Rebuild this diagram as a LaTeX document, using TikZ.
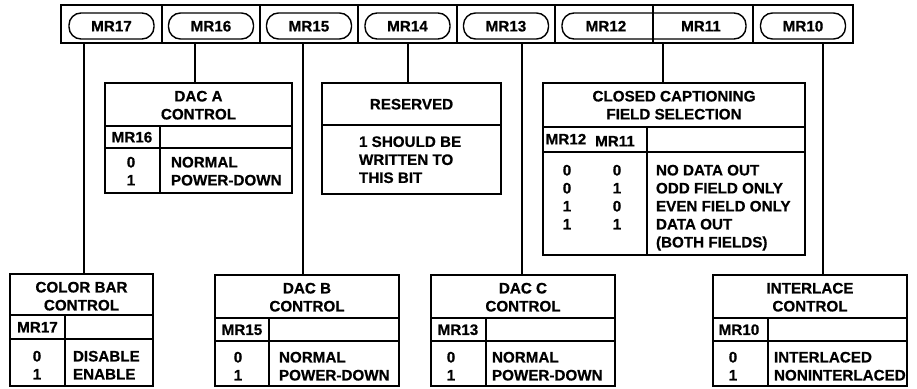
\documentclass[tikz,border=0pt]{standalone}
\usepackage{fontspec}
\setmainfont{Liberation Sans}[BoldFeatures={FakeBold=0.6}]
\begin{document}
\begin{tikzpicture}[x=1pt,y=-1pt,
  lbl/.style={inner sep=0pt, outer sep=0pt, text height=10.9pt, text depth=0pt,
    font=\fontsize{15.2}{18}\selectfont\bfseries},
  lw/.style={lbl, anchor=west},
  frame/.style={draw, line width=1.6pt, inner sep=0pt, outer sep=0pt},
  pill/.style={draw, line width=1.4pt, rounded corners=12pt, minimum height=26pt,
    minimum width=85pt, lbl},
  divline/.style={line width=1.3pt},
  conn/.style={line width=1.4pt}]
\useasboundingbox (0,0) rectangle (917,388);

% ---------- register ----------
\node[frame, minimum width=792pt, minimum height=38pt] (reg) at (457,24) {};
\node[pill] (p17) at (111.5,26) {MR17};
\node[pill] (p16) at (211,26) {MR16};
\node[pill] (p15) at (309,26) {MR15};
\node[pill] (p14) at (407.5,26) {MR14};
\node[pill] (p13) at (506,26) {MR13};
\node[pill, minimum width=184pt] (p1211) at (654,26) {};
\node[pill] (p10) at (803,26) {MR10};
\node[lbl] (t12) at (606,26) {MR12};
\node[lbl] (t11) at (701,26) {MR11};
\foreach \x in {162,260,358,457,555,753}
  \draw[line width=1.6pt] (\x,5) -- (\x,43);
\draw[line width=1.3pt] (653,5) -- (653,43);

% ---------- DAC A ----------
\node[frame, minimum width=187pt, minimum height=110pt] (daca) at (198.5,138) {};
\draw[divline] (105,126) -- (292,126);
\draw[divline] (105,148) -- (292,148);
\draw[divline] (160,126) -- (160,193);
\node[lbl] (daca1) at (198.5,96) {DAC A};
\node[lbl] (daca2) at (198.5,114) {CONTROL};
\node[lbl] (dacah) at (132,137) {MR16};
\node[lbl] (dacav0) at (131,162) {0};
\node[lbl] (dacav1) at (131,180) {1};
\node[lw] (dacat0) at (171,162) {NORMAL};
\node[lw] (dacat1) at (171,180) {POWER-DOWN};

% ---------- RESERVED ----------
\node[frame, minimum width=179pt, minimum height=111pt] (res) at (411.5,138.5) {};
\draw[divline] (322,125) -- (501,125);
\node[lbl] (res1) at (411.5,104) {RESERVED};
\node[lw] (res2) at (359,141.5) {1 SHOULD BE};
\node[lw] (res3) at (359,159.5) {WRITTEN TO};
\node[lw] (res4) at (359,177.5) {THIS BIT};

% ---------- CLOSED CAPTIONING ----------
\node[frame, minimum width=262pt, minimum height=172pt] (cc) at (674,169) {};
\draw[divline] (543,127) -- (805,127);
\draw[divline] (543,152) -- (805,152);
\draw[divline] (647,127) -- (647,255);
\node[lbl] (cc1) at (674,96) {CLOSED CAPTIONING};
\node[lbl] (cc2) at (674,114) {FIELD SELECTION};
\node[lbl] (cch1) at (566,139) {MR12};
\node[lbl] (cch2) at (615,141) {MR11};
\node[lbl] (cca0) at (567,170) {0};
\node[lbl] (ccb0) at (617,170) {0};
\node[lbl] (cca1) at (567,188) {0};
\node[lbl] (ccb1) at (617,188) {1};
\node[lbl] (cca2) at (567,206) {1};
\node[lbl] (ccb2) at (617,206) {0};
\node[lbl] (cca3) at (567,224) {1};
\node[lbl] (ccb3) at (617,224) {1};
\node[lw] (cct0) at (656,170) {NO DATA OUT};
\node[lw] (cct1) at (656,188) {ODD FIELD ONLY};
\node[lw] (cct2) at (656,206) {EVEN FIELD ONLY};
\node[lw] (cct3) at (656,224) {DATA OUT};
\node[lw] (cct4) at (656,242) {(BOTH FIELDS)};

% ---------- COLOR BAR ----------
\node[frame, minimum width=143pt, minimum height=112pt] (cb) at (81.5,330) {};
\draw[divline] (10,315) -- (153,315);
\draw[divline] (10,339) -- (153,339);
\draw[divline] (65,315) -- (65,386);
\node[lbl] (cb1) at (81.5,287) {COLOR BAR};
\node[lbl] (cb2) at (81.5,305) {CONTROL};
\node[lbl] (cbh) at (37.5,327) {MR17};
\node[lbl] (cbv0) at (37,356) {0};
\node[lbl] (cbv1) at (37,374) {1};
\node[lw] (cbt0) at (73,356) {DISABLE};
\node[lw] (cbt1) at (73,374) {ENABLE};

% ---------- DAC B ----------
\node[frame, minimum width=184pt, minimum height=111pt] (dacb) at (307,330.5) {};
\draw[divline] (215,318) -- (399,318);
\draw[divline] (215,341) -- (399,341);
\draw[divline] (269,318) -- (269,386);
\node[lbl] (dacb1) at (307,288) {DAC B};
\node[lbl] (dacb2) at (307,306) {CONTROL};
\node[lbl] (dacbh) at (242,329.5) {MR15};
\node[lbl] (dacbv0) at (238,357) {0};
\node[lbl] (dacbv1) at (238,375) {1};
\node[lw] (dacbt0) at (279,357) {NORMAL};
\node[lw] (dacbt1) at (279,375) {POWER-DOWN};

% ---------- DAC C ----------
\node[frame, minimum width=184pt, minimum height=111pt] (dacc) at (523,330.5) {};
\draw[divline] (431,318) -- (615,318);
\draw[divline] (431,341) -- (615,341);
\draw[divline] (486,318) -- (486,386);
\node[lbl] (dacc1) at (523,288) {DAC C};
\node[lbl] (dacc2) at (523,306) {CONTROL};
\node[lbl] (dacch) at (458,329.5) {MR13};
\node[lbl] (daccv0) at (451,357) {0};
\node[lbl] (daccv1) at (451,375) {1};
\node[lw] (dacct0) at (492,357) {NORMAL};
\node[lw] (dacct1) at (492,375) {POWER-DOWN};

% ---------- INTERLACE ----------
\node[frame, minimum width=194pt, minimum height=111pt] (il) at (810,330.5) {};
\draw[divline] (713,318) -- (907,318);
\draw[divline] (713,341) -- (907,341);
\draw[divline] (768,318) -- (768,386);
\node[lbl] (il1) at (810,288) {INTERLACE};
\node[lbl] (il2) at (810,306) {CONTROL};
\node[lbl] (ilh) at (739,329.5) {MR10};
\node[lbl] (ilv0) at (733,357) {0};
\node[lbl] (ilv1) at (733,375) {1};
\node[lw] (ilt0) at (774,357) {INTERLACED};
\node[lw] (ilt1) at (774,375) {NONINTERLACED};

% ---------- connectors ----------
\coordinate (k17) at (84,43);
\coordinate (k16) at (195,43);
\coordinate (k15) at (303,43);
\coordinate (k14) at (408,43);
\coordinate (k13) at (522,43);
\coordinate (k11) at (663,43);
\coordinate (k10) at (823,43);
\draw[conn] (k17) -- (k17 |- cb.north);
\draw[conn] (k16) -- (k16 |- daca.north);
\draw[conn] (k15) -- (k15 |- dacb.north);
\draw[conn] (k14) -- (k14 |- res.north);
\draw[conn] (k13) -- (k13 |- dacc.north);
\draw[conn] (k11) -- (k11 |- cc.north);
\draw[conn] (k10) -- (k10 |- il.north);
\end{tikzpicture}
\end{document}
